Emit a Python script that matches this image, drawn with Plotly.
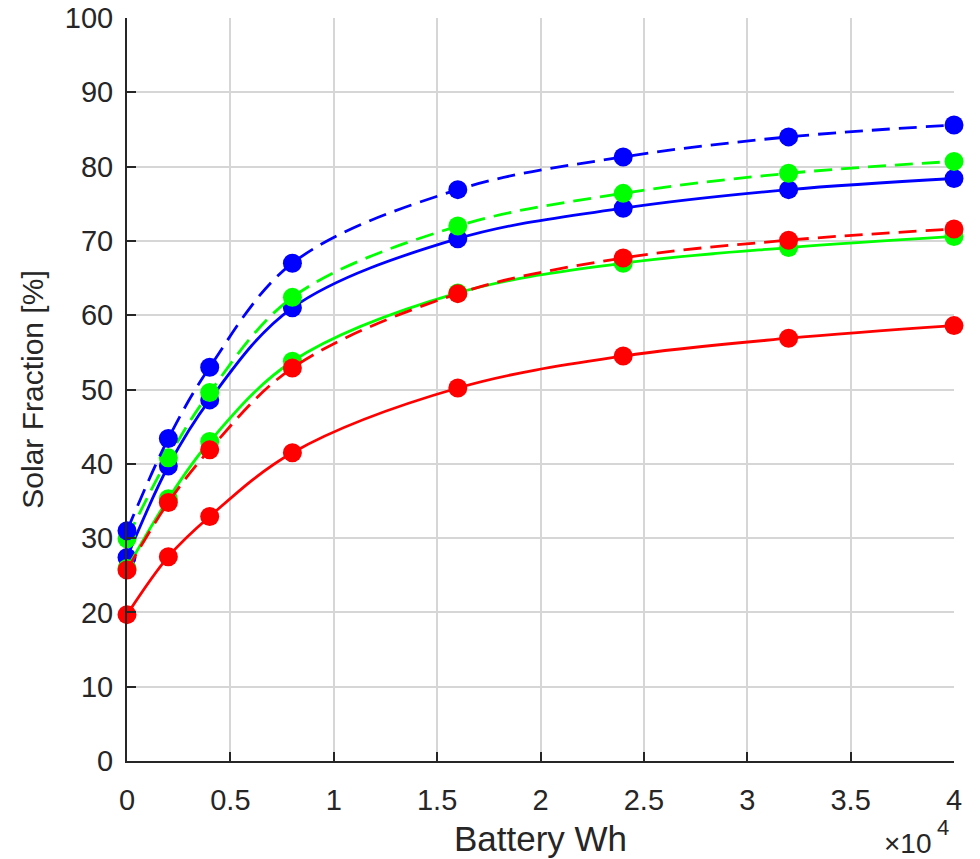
import plotly.graph_objects as go

battery_wh = [0, 2000, 4000, 8000, 16000, 24000, 32000, 40000]

blue_solid = [27.4, 39.7, 48.6, 61.0, 70.3, 74.4, 76.9, 78.4]
green_solid = [25.9, 35.3, 43.0, 53.8, 63.0, 67.0, 69.1, 70.6]
red_solid = [19.7, 27.5, 32.9, 41.5, 50.2, 54.5, 56.9, 58.6]
green_dashed = [29.9, 40.8, 49.6, 62.4, 72.0, 76.4, 79.1, 80.7]
blue_dashed = [31.0, 43.4, 53.0, 67.0, 76.9, 81.3, 84.0, 85.6]
red_dashed = [25.7, 34.8, 41.9, 52.9, 62.9, 67.7, 70.1, 71.6]

x_tickvals = [0, 5000, 10000, 15000, 20000, 25000, 30000, 35000, 40000]
x_ticktext = ["0", "0.5", "1", "1.5", "2", "2.5", "3", "3.5", "4"]
y_tickvals = [0, 10, 20, 30, 40, 50, 60, 70, 80, 90, 100]

dash_style = "18px,9px"
series = [
    (blue_solid, "#0000FF", "solid"),
    (green_solid, "#00FF00", "solid"),
    (red_solid, "#FF0000", "solid"),
    (green_dashed, "#00FF00", dash_style),
    (blue_dashed, "#0000FF", dash_style),
    (red_dashed, "#FF0000", dash_style),
]

fig = go.Figure()
for ys, col, dash in series:
    fig.add_trace(go.Scatter(
        x=battery_wh, y=ys, mode="lines+markers",
        line=dict(color=col, width=2.8, dash=dash, shape="spline", smoothing=1.0),
        marker=dict(color=col, size=19),
        cliponaxis=False, showlegend=False,
    ))

font_family = "Liberation Sans, Arial, sans-serif"
axis_col = "#262626"

fig.update_layout(
    width=980, height=859,
    margin=dict(l=127, r=26, t=18, b=98),
    paper_bgcolor="white", plot_bgcolor="white",
    font=dict(family=font_family, size=29, color=axis_col),
    xaxis=dict(
        range=[0, 40000], tickvals=x_tickvals, ticktext=x_ticktext,
        ticks="inside", ticklen=9, tickwidth=1.5, tickcolor=axis_col,
        showline=True, linecolor=axis_col, linewidth=2,
        showgrid=True, gridcolor="#d6d6d6", gridwidth=1.5,
        zeroline=False, ticklabelstandoff=12, automargin=False,
        title=dict(text="Battery Wh", font=dict(size=35), standoff=12),
        tickfont=dict(size=29),
    ),
    yaxis=dict(
        range=[0, 100], tickvals=y_tickvals,
        ticks="inside", ticklen=9, tickwidth=1.5, tickcolor=axis_col,
        showline=True, linecolor=axis_col, linewidth=2,
        showgrid=True, gridcolor="#d6d6d6", gridwidth=1.5,
        zeroline=False, ticklabelstandoff=6, automargin=False,
        title=dict(text="Solar Fraction [%]", font=dict(size=30), standoff=12),
        tickfont=dict(size=29),
    ),
    annotations=[
        dict(text="×10", xref="paper", yref="paper", x=0.944, y=-0.111,
             xanchor="center", yanchor="middle", showarrow=False, borderpad=0,
             font=dict(size=28, color=axis_col)),
        dict(text="4", xref="paper", yref="paper", x=0.987, y=-0.089,
             xanchor="center", yanchor="middle", showarrow=False, borderpad=0,
             font=dict(size=22, color=axis_col)),
    ],
)

fig.write_html("out.html")
